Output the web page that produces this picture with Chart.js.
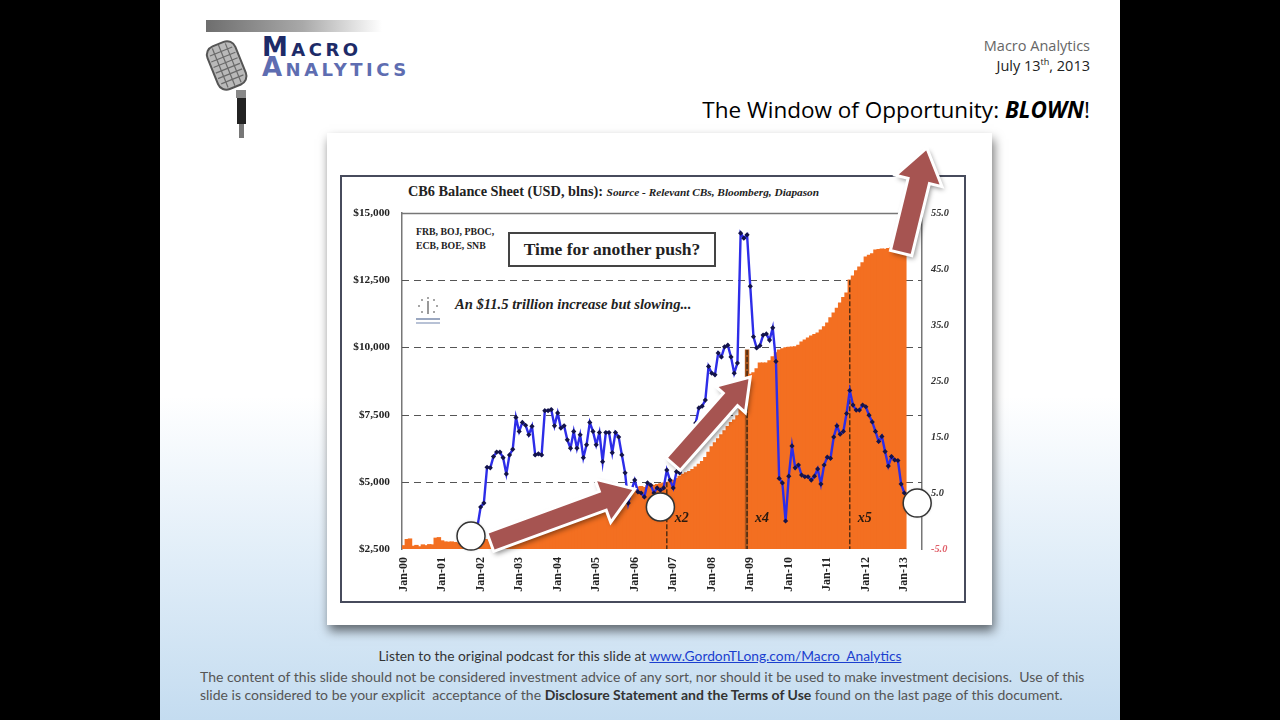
<!DOCTYPE html>
<html>
<head>
<meta charset="utf-8">
<script src="https://cdn.jsdelivr.net/npm/chart.js@4.4.0/dist/chart.umd.min.js"></script>
<style>
  body { margin: 0; width: 1280px; height: 720px; background: #000; overflow: hidden; position: relative; font-family: 'Lato', 'Open Sans', sans-serif; }
  .abs { position: absolute; }
  #slide { left: 160px; top: 0; width: 960px; height: 720px;
    background: linear-gradient(to bottom, #ffffff 0%, #ffffff 55%, #e0edf8 78%, #c4dcf0 100%); }
  #logoBar { left: 206px; top: 20px; width: 176px; height: 12px;
    background: linear-gradient(to right, #6e6e6e, #a9a9a9 55%, rgba(255,255,255,0)); }
  .logoText { font-family: 'DejaVu Sans', sans-serif; font-weight: bold; font-variant: small-caps; letter-spacing: 3.5px; line-height: 20px; }
  #macro { left: 262px; top: 37px; font-size: 26px; color: #1d2b68; }
  #analytics { left: 262px; top: 57px; font-size: 26px; color: #5e6db1; }
  #hdr1 { right: 190px; top: 36px; font-size: 14.5px; color: #666; font-family: 'Open Sans', sans-serif; }
  #hdr2 { right: 190px; top: 55px; font-size: 14.5px; color: #222; font-family: 'Open Sans', sans-serif; }
  #hdr2 sup { font-size: 9px; }
  #headline { right: 190px; top: 94px; font-size: 22.5px; color: #000; font-family: 'Open Sans', sans-serif; }
  #paper { left: 327px; top: 133px; width: 665px; height: 492px; background: #fff;
    box-shadow: 2px 6px 10px rgba(0,0,0,0.55); }
  #frame { left: 340px; top: 175px; width: 622px; height: 424px; border: 2px solid #474b5c; }
  .serif { font-family: 'Liberation Serif', 'DejaVu Serif', serif; color: #222; }
  #ctitle { left: 408px; top: 183px; font-size: 14.3px; font-weight: bold; white-space: nowrap; }
  #ctitle i { font-size: 11.3px; }
  #cbs { left: 416px; top: 225px; font-size: 9.8px; font-weight: bold; line-height: 14px; }
  #push { left: 508px; top: 232px; width: 204px; height: 31px; border: 2px solid #444;
    font-size: 17.5px; font-weight: bold; text-align: center; line-height: 31px; white-space: nowrap; }
  #slow { left: 455px; top: 296px; font-size: 14.6px; font-weight: bold; font-style: italic; white-space: nowrap; }
  #chartBox { left: 327px; top: 133px; width: 665px; height: 492px; }
  #listen { left: 160px; width: 960px; top: 647px; text-align: center; font-size: 13.8px; color: #333; }
  #listen a { color: #1b3fcf; text-decoration: underline; }
  #discl { left: 200px; top: 668px; width: 910px; font-size: 14px; line-height: 18px; color: #555; white-space: nowrap; }
  #discl b { color: #333; font-weight: bold; }
</style>
</head>
<body>
<div id="slide" class="abs"></div>
<div id="logoBar" class="abs"></div>
<svg class="abs" style="left:202px;top:36px" width="60" height="104" viewBox="0 0 60 104">
  <g transform="rotate(-22 26 30)">
    <rect x="10" y="6" width="30" height="46" rx="9" fill="#b9b9b9" stroke="#555" stroke-width="2"/>
    <g stroke="#6a6a6a" stroke-width="1.2">
      <line x1="13" y1="14" x2="37" y2="14"/><line x1="12" y1="20" x2="38" y2="20"/>
      <line x1="12" y1="26" x2="38" y2="26"/><line x1="12" y1="32" x2="38" y2="32"/>
      <line x1="12" y1="38" x2="38" y2="38"/><line x1="13" y1="44" x2="37" y2="44"/>
      <line x1="18" y1="8" x2="18" y2="50"/><line x1="25" y1="7" x2="25" y2="51"/><line x1="32" y1="8" x2="32" y2="50"/>
    </g>
  </g>
  <rect x="34" y="54" width="10" height="8" fill="#888"/>
  <rect x="35" y="62" width="9" height="26" fill="#222"/>
  <rect x="37" y="88" width="5" height="14" fill="#777"/>
</svg>
<div id="macro" class="abs logoText">Macro</div>
<div id="analytics" class="abs logoText">Analytics</div>
<div id="hdr1" class="abs">Macro Analytics</div>
<div id="hdr2" class="abs">July 13<sup>th</sup>, 2013</div>
<div id="headline" class="abs">The Window of Opportunity: <b><i>BLOWN</i></b>!</div>

<div id="paper" class="abs"></div>
<div id="frame" class="abs"></div>
<div id="ctitle" class="abs serif">CB6 Balance Sheet (USD, blns): <i>Source - Relevant CBs, Bloomberg, Diapason</i></div>
<div id="cbs" class="abs serif">FRB, BOJ, PBOC,<br>ECB, BOE, SNB</div>
<div id="push" class="abs serif">Time for another push?</div>
<svg class="abs" style="left:414px;top:295px" width="28" height="32" viewBox="0 0 28 32">
  <g fill="#888">
    <circle cx="14" cy="3" r="1"/><circle cx="20" cy="5" r="1"/><circle cx="23" cy="11" r="1"/>
    <circle cx="20" cy="17" r="1"/><circle cx="8" cy="17" r="1"/><circle cx="5" cy="11" r="1"/><circle cx="8" cy="5" r="1"/>
  </g>
  <line x1="14" y1="6" x2="14" y2="19" stroke="#777" stroke-width="1.5"/>
  <rect x="2" y="23" width="24" height="2" fill="#9aa7c0"/>
  <rect x="2" y="27" width="24" height="2" fill="#b8c2d6"/>
</svg>
<div id="slow" class="abs serif">An $11.5 trillion increase but slowing...</div>

<div id="chartBox" class="abs"><canvas id="cb6Chart"></canvas></div>

<div id="listen" class="abs">Listen to the original podcast for this slide at <a>www.GordonTLong.com/Macro_Analytics</a></div>
<div id="discl" class="abs">The content of this slide should not be considered investment advice of any sort, nor should it be used to make investment decisions.&nbsp; Use of this<br>slide is considered to be your explicit&nbsp; acceptance of the <b>Disclosure Statement and the Terms of Use</b> found on the last page of this document.</div>

<script>
// months Jan-00 .. Jun-13 (the axis runs a little past the last data point)
const monthNames = ['Jan','Feb','Mar','Apr','May','Jun','Jul','Aug','Sep','Oct','Nov','Dec'];
const years = ['00','01','02','03','04','05','06','07','08','09','10','11','12','13'];
const lastMonthOf2013 = 6;

// CB6 balance sheet, USD blns (left axis), monthly from Jan-00
const balanceSheet = [
  2620, 2850, 2870, 2600, 2630, 2580, 2650, 2620, 2660, 2650, 2900, 2920,
  2800, 2760, 2750, 2760, 2740, 2720, 2700, 2680, 2700, 2720, 2740, 2760,
  2800, 2830, 2850, 2880, 2900, 2950, 2980, 3000, 3020, 3050, 3080, 3120,
  3180, 3220, 3260, 3300, 3350, 3400, 3440, 3480, 3520, 3560, 3600, 3650,
  3700, 3760, 3820, 3870, 3900, 3940, 3960, 3990, 4020, 4050, 4080, 4120,
  4150, 4170, 4190, 4210, 4260, 4300, 4350, 4400, 4450, 4520, 4600, 4680,
  4750, 4800, 4820, 4780, 4850, 4880, 4870, 4900, 4920, 4950, 4980, 5000,
  5050, 5120, 5200, 5280, 5330, 5380, 5450, 5550, 5650, 5750, 5900, 6100,
  6300, 6450, 6600, 6750, 6900, 7050, 7200, 7300, 7450, 8200, 8800, 9900,
  9000, 9050, 9200, 9420, 9420, 9420, 9500, 9650, 9800, 9900, 9950, 9980,
  10000, 10010, 10020, 10080, 10200, 10270, 10350, 10420, 10480, 10530, 10640, 10760,
  10900, 11100, 11280, 11450, 11650, 11850, 12020, 12500, 12650, 12850, 12990, 13150,
  13360, 13420, 13480, 13620, 13640, 13660, 13650, 13680, 13700, 13720, 13700, 13720,
  13700
];

// y/y growth % (right axis), monthly from Dec-01
const growthStart = 'Dec-01';
const growth = [
  -1,
  2.5, 3.2, 9.6, 9.5, 11.5, 12.3, 12.3, 11.3, 8.4, 11.8, 12.8, 18.5,
  16, 17.6, 17.1, 15.4, 16.9, 11.8, 12, 11.8, 19.7, 19.7, 19.9, 17,
  19.3, 16.6, 17, 14.5, 13, 16, 13, 15.4, 11.3, 13.6, 17.6, 16,
  13.6, 15.8, 10.6, 15.8, 15.8, 12.2, 15.8, 15, 11.8, 8.6, 3.2, 5.5,
  7.3, 5.2, 5, 4.3, 6.8, 6.4, 5, 5.9, 5.5, 5.9, 9.1, 7.3,
  5.9, 8.8, 8.6, 10, 11.5, 13, 15, 17.5, 20.2, 20.5, 21.6, 27.6,
  26.4, 26.1, 30, 29.3, 31.1, 31.4, 29.3, 26.4, 28.2, 51.4, 50.5, 51.1,
  41.9, 32.9, 30.9, 31.3, 33.2, 33.4, 32.3, 34.5, 28.5, 7.6, 6.8, 0,
  8, 13.4, 9.5, 10, 8.2, 7.9, 7.9, 7.3, 8, 9.3, 6.6, 10,
  11.4, 11.2, 15, 17, 15.5, 16, 19.2, 23.3, 20.7, 19.8, 19.8, 20.7,
  20.4, 18.9, 17.7, 16, 14.2, 15.1, 12.4, 9.8, 11.5, 10.9, 10.8, 6.6,
  5
];

const leftTicks = [2500, 5000, 7500, 10000, 12500, 15000];
const rightTicks = [-5, 5, 15, 25, 35, 45, 55];
const spikeMonth = 'Dec-08';
const multiples = [
  { month: 'Nov-06', text: 'x2' },
  { month: 'Dec-08', text: 'x4' },
  { month: 'Aug-11', text: 'x5' }
];
// white circles (right-axis values) and push arrows (left-axis values)
const circles = [
  { month: 'Oct-01', value: -2.7 },
  { month: 'Sep-06', value: 2.5 },
  { month: 'May-13', value: 3.2 }
];
const arrows = [
  { from: ['Apr-02', 2760], to: ['Jan-06', 4730], shaft: 20, head: 46, headLen: 34 },
  { from: ['Jan-07', 5660], to: ['Jan-09', 8900], shaft: 19, head: 40, headLen: 30 },
  { from: ['Dec-12', 13510], to: ['Aug-13', 17420], shaft: 22, head: 48, headLen: 34 }
];

let months = [];
years.forEach((yy) => {
  const n = yy === '13' ? lastMonthOf2013 : 12;
  for (let i = 0; i < n; i++) {
    months.push(monthNames[i] + '-' + yy);
  }
});

let growthSeries = [];
const gStart = months.indexOf(growthStart);
for (let i = 0; i < gStart; i++) growthSeries.push(null);
growth.forEach((g) => growthSeries.push(g));

const serif = "'Liberation Serif', 'DejaVu Serif', serif";

function monthIndex(m) {
  const i = months.indexOf(m);
  if (i >= 0) return i;
  // months beyond the axis (e.g. Aug-13)
  const [mn, yy] = m.split('-');
  return parseInt(yy, 10) * 12 + monthNames.indexOf(mn);
}

const gridPlugin = {
  id: 'dashGrid',
  beforeDatasetsDraw(chart) {
    const { ctx, chartArea, scales } = chart;
    ctx.save();
    leftTicks.forEach((t) => {
      if (t === 2500) return;
      const y = Math.round(scales.y.getPixelForValue(t)) + 0.5;
      ctx.beginPath();
      ctx.strokeStyle = t === 15000 ? '#777' : '#555';
      ctx.lineWidth = t === 15000 ? 1.5 : 1;
      ctx.setLineDash(t === 15000 ? [] : [7, 5]);
      ctx.moveTo(chartArea.left, y);
      ctx.lineTo(chartArea.right, y);
      ctx.stroke();
    });
    ctx.restore();
  },
  afterDatasetDraw(chart, args) {
    if (args.index !== 0) return;
    const { ctx, chartArea, scales } = chart;
    ctx.save();
    multiples.forEach((m) => {
      const i = months.indexOf(m.month);
      const x = scales.x.getPixelForValue(i);
      const yTop = scales.y.getPixelForValue(balanceSheet[i]);
      ctx.beginPath();
      ctx.strokeStyle = '#3b2410';
      ctx.lineWidth = 1.3;
      ctx.setLineDash([5, 2]);
      ctx.moveTo(x, yTop);
      ctx.lineTo(x, chartArea.bottom);
      ctx.stroke();
      ctx.setLineDash([]);
      ctx.fillStyle = '#2a1a10';
      ctx.font = 'italic bold 14px ' + serif;
      ctx.textBaseline = 'middle';
      ctx.fillText(m.text, x + 8, scales.y1.getPixelForValue(0.5));
    });
    ctx.restore();
  },
  afterDraw(chart) {
    const { ctx, scales } = chart;
    arrows.forEach((a) => {
      const x0 = scales.x.getPixelForValue(monthIndex(a.from[0]));
      const y0 = scales.y.getPixelForValue(a.from[1]);
      const x1 = scales.x.getPixelForValue(monthIndex(a.to[0]));
      const y1 = scales.y.getPixelForValue(a.to[1]);
      drawArrow(ctx, x0, y0, x1, y1, a.shaft, a.head, a.headLen);
    });
    circles.forEach((c) => {
      const x = scales.x.getPixelForValue(monthIndex(c.month));
      const y = scales.y1.getPixelForValue(c.value);
      ctx.save();
      ctx.shadowColor = 'rgba(0,0,0,0.25)';
      ctx.shadowBlur = 3;
      ctx.beginPath();
      ctx.arc(x, y, 14, 0, Math.PI * 2);
      ctx.fillStyle = '#fff';
      ctx.fill();
      ctx.shadowColor = 'transparent';
      ctx.lineWidth = 1.5;
      ctx.strokeStyle = '#333';
      ctx.stroke();
      ctx.restore();
    });
  }
};

function drawArrow(ctx, x0, y0, x1, y1, shaftW, headW, headL) {
  const dx = x1 - x0, dy = y1 - y0;
  const len = Math.hypot(dx, dy);
  const ux = dx / len, uy = dy / len;
  const nx = -uy, ny = ux;
  const bx = x1 - ux * headL, by = y1 - uy * headL;
  const pts = [
    [x0 + nx * shaftW / 2, y0 + ny * shaftW / 2],
    [bx + nx * shaftW / 2, by + ny * shaftW / 2],
    [bx + nx * headW / 2, by + ny * headW / 2],
    [x1, y1],
    [bx - nx * headW / 2, by - ny * headW / 2],
    [bx - nx * shaftW / 2, by - ny * shaftW / 2],
    [x0 - nx * shaftW / 2, y0 - ny * shaftW / 2]
  ];
  ctx.save();
  ctx.beginPath();
  pts.forEach((p, i) => { if (i) ctx.lineTo(p[0], p[1]); else ctx.moveTo(p[0], p[1]); });
  ctx.closePath();
  ctx.shadowColor = 'rgba(0,0,0,0.45)';
  ctx.shadowBlur = 5;
  ctx.shadowOffsetX = 2;
  ctx.shadowOffsetY = 3;
  ctx.fillStyle = '#a65451';
  ctx.fill();
  ctx.shadowColor = 'transparent';
  ctx.lineWidth = 3;
  ctx.lineJoin = 'miter';
  ctx.strokeStyle = '#ffffff';
  ctx.stroke();
  ctx.restore();
}

const ctxCb6 = document.getElementById('cb6Chart');
const cb6Chart = new Chart(ctxCb6, {
  type: 'bar',
  data: {
    labels: months,
    datasets: [
      {
        label: 'CB6 Balance Sheet',
        data: balanceSheet,
        yAxisID: 'y',
        backgroundColor: (c) => months[c.dataIndex] === spikeMonth ? '#a9561f' : '#f36f21',
        borderWidth: 0,
        inflateAmount: 0.6,
        barPercentage: 1,
        categoryPercentage: 1,
        order: 2
      },
      {
        type: 'line',
        label: 'Growth',
        data: growthSeries,
        yAxisID: 'y1',
        borderColor: '#2d2de8',
        borderWidth: 2.4,
        pointStyle: 'rectRot',
        pointRadius: 2.6,
        pointBackgroundColor: '#14144a',
        pointBorderWidth: 0,
        tension: 0,
        spanGaps: false,
        order: 1
      }
    ]
  },
  options: {
    responsive: true,
    maintainAspectRatio: false,
    animation: false,
    layout: { padding: { top: 80, left: 0, right: 0, bottom: 0 } },
    scales: {
      x: {
        offset: true,
        grid: { display: false, drawTicks: false },
        border: { display: false },
        ticks: {
          autoSkip: false,
          minRotation: 90,
          maxRotation: 90,
          padding: 8,
          color: '#222',
          font: { family: serif, weight: 'bold', size: 12 },
          callback: (v, i) => months[i].startsWith('Jan') ? months[i] : null
        },
        afterFit: (s) => { s.height = 76; }
      },
      y: {
        position: 'left',
        min: 2500,
        max: 15000,
        afterBuildTicks: (s) => { s.ticks = leftTicks.map((v) => ({ value: v })); },
        grid: { display: false, drawTicks: false },
        border: { display: true, color: '#777', width: 1.5 },
        ticks: {
          padding: 12,
          color: '#222',
          font: { family: serif, weight: 'bold', size: 11.3 },
          callback: (v) => '$' + v.toLocaleString('en-US')
        },
        afterFit: (s) => { s.width = 75; }
      },
      y1: {
        position: 'right',
        min: -5,
        max: 55,
        afterBuildTicks: (s) => { s.ticks = rightTicks.map((v) => ({ value: v })); },
        grid: { display: false, drawTicks: false },
        border: { display: true, color: '#777', width: 1.5 },
        ticks: {
          padding: 9,
          color: (c) => c.tick.value < 0 ? '#e0606a' : '#333',
          font: { family: serif, weight: 'bold', style: 'italic', size: 10.3 },
          callback: (v) => v.toFixed(1)
        },
        afterFit: (s) => { s.width = 70; }
      }
    },
    plugins: {
      legend: { display: false },
      tooltip: { enabled: false }
    }
  },
  plugins: [gridPlugin]
});
</script>
</body>
</html>
